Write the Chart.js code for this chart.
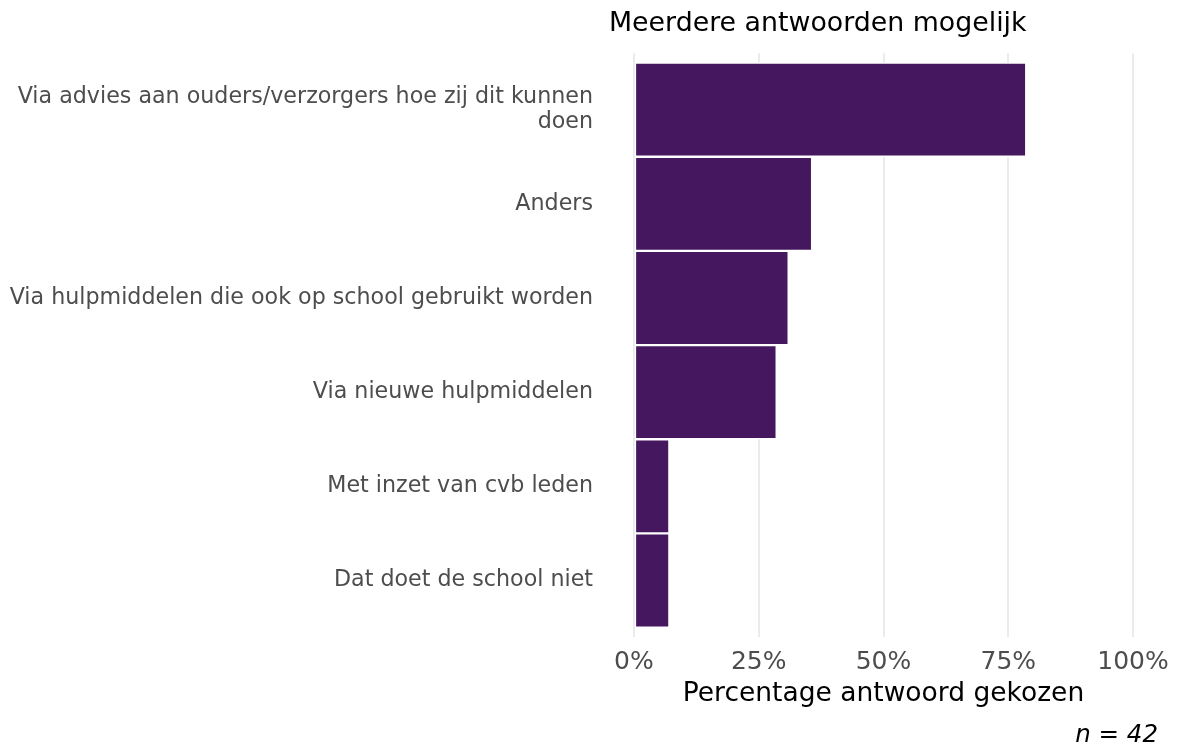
<!DOCTYPE html>
<html>
<head>
<meta charset="utf-8">
<script src="https://cdn.jsdelivr.net/npm/chart.js@4/dist/chart.umd.min.js"></script>
<style>
html,body{margin:0;padding:0;background:#fff;}
#wrap{width:1183px;height:746px;position:relative;}
</style>
</head>
<body>
<div id="wrap"><canvas id="c"></canvas></div>
<script>
const categories = [
  ["Via advies aan ouders/verzorgers hoe zij dit kunnen", "doen"],
  "Anders",
  "Via hulpmiddelen die ook op school gebruikt worden",
  "Via nieuwe hulpmiddelen",
  "Met inzet van cvb leden",
  "Dat doet de school niet"
];
const percentages = [78.6, 35.7, 31.0, 28.6, 7.1, 7.1];
const xTickValues = [0, 25, 50, 75, 100];
const xTickLabels = ["0%", "25%", "50%", "75%", "100%"];
const titleText = "Meerdere antwoorden mogelijk";
const xAxisTitle = "Percentage antwoord gekozen";
const captionText = "n = 42";

const FONT = "'DejaVu Sans', Verdana, sans-serif";
const points = percentages.map((v, i) => ({ x: v, y: i + 1 }));

new Chart(document.getElementById('c'), {
  type: 'bar',
  data: {
    datasets: [{
      data: points,
      backgroundColor: '#45175f',
      borderColor: '#ffffff',
      borderWidth: 1.5,
      borderSkipped: false,
      barPercentage: 1.0,
      categoryPercentage: 1.0
    }]
  },
  options: {
    indexAxis: 'y',
    responsive: true,
    maintainAspectRatio: false,
    animation: false,
    layout: { padding: { left: 0, right: 25, top: 8, bottom: 0 } },
    plugins: {
      legend: { display: false },
      tooltip: { enabled: false },
      title: {
        display: true,
        text: titleText,
        align: 'start',
        fullSize: false,
        color: '#000000',
        font: { family: FONT, size: 26.8, weight: 'normal', lineHeight: 1.2 },
        padding: { top: 0, bottom: 13 }
      },
      subtitle: {
        display: true,
        text: captionText,
        position: 'bottom',
        align: 'end',
        fullSize: false,
        color: '#000000',
        font: { family: FONT, size: 24.5, style: 'italic', weight: 'normal', lineHeight: 0.85 },
        padding: { top: 15.7, bottom: 0 }
      }
    },
    scales: {
      x: {
        type: 'linear',
        min: -5,
        max: 105,
        afterBuildTicks: (s) => { s.ticks = xTickValues.map(v => ({ value: v })); },
        ticks: {
          callback: (v) => { const i = xTickValues.indexOf(v); return i >= 0 ? xTickLabels[i] : ''; },
          color: '#4d4d4d',
          font: { family: FONT, size: 25, lineHeight: 1.2 },
          padding: 10,
          maxRotation: 0
        },
        grid: { color: '#ebebeb', lineWidth: 2, drawTicks: false },
        border: { display: false },
        title: {
          display: true,
          text: xAxisTitle,
          color: '#000000',
          font: { family: FONT, size: 26.5, lineHeight: 1.15 },
          padding: { top: -8, bottom: 0 }
        }
      },
      y: {
        type: 'linear',
        min: 0.4,
        max: 6.6,
        reverse: true,
        offset: false,
        afterBuildTicks: (s) => { s.ticks = categories.map((c, i) => ({ value: i + 1 })); },
        afterFit: (s) => { s.width = 609; },
        ticks: {
          callback: (v) => { const i = Math.round(v) - 1; return (Math.abs(v - Math.round(v)) < 1e-6 && categories[i] !== undefined) ? categories[i] : ''; },
          color: '#4d4d4d',
          font: { family: FONT, size: 22.2, lineHeight: 1.1 },
          padding: 16,
          crossAlign: 'near'
        },
        grid: { display: false, drawTicks: false, offset: false },
        border: { display: false }
      }
    }
  }
});
</script>
</body>
</html>
